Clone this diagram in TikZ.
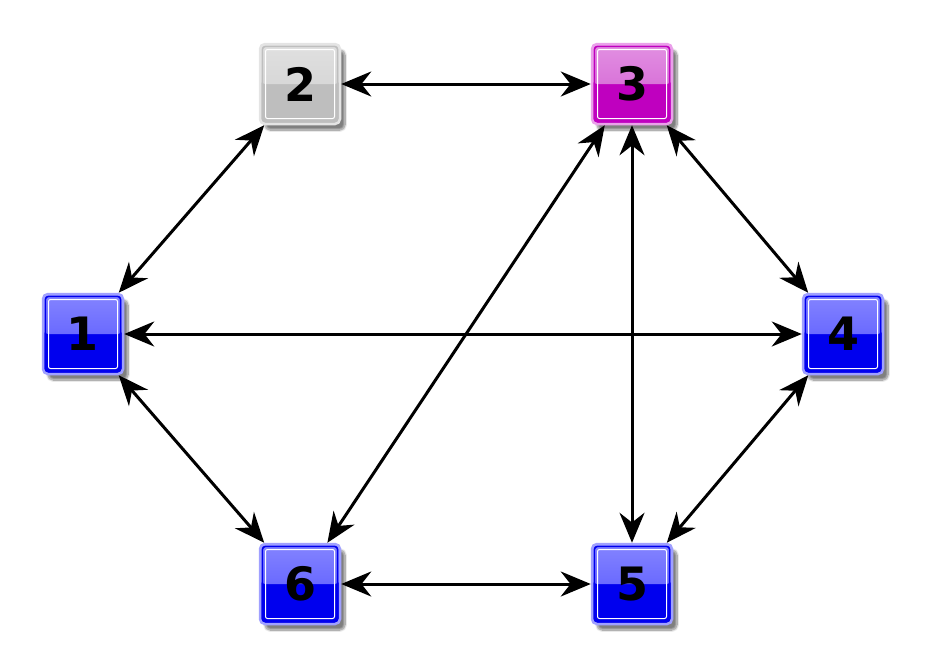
\documentclass[tikz,border=0pt]{standalone}
\usepackage{fontspec}
\setmainfont{DejaVu Sans}
\usetikzlibrary{arrows.meta,shadows.blur}
\definecolor{cblue}{HTML}{0000EE}
\definecolor{cbluelt}{HTML}{A0A0FF}
\definecolor{cbluetop}{HTML}{8484FF}
\definecolor{cbluemid}{HTML}{5050FF}
\definecolor{cgray}{HTML}{BEBEBE}
\definecolor{cgraylt}{HTML}{E4E4E4}
\definecolor{cgraytop}{HTML}{E0E0E0}
\definecolor{cgraymid}{HTML}{CFCFCF}
\definecolor{cmag}{HTML}{BF00BF}
\definecolor{cmaglt}{HTML}{EAA0EA}
\definecolor{cmagtop}{HTML}{E290E2}
\definecolor{cmagmid}{HTML}{D058D0}
\tikzset{
  cell/.style n args={4}{minimum size=80pt, inner sep=0pt, rounded corners=5pt,
    fill=#1, draw=#2, line width=2.5pt,
    font=\fontsize{46}{46}\selectfont\bfseries, text=black,
    blur shadow={shadow xshift=5pt, shadow yshift=-6pt, shadow blur steps=10, shadow blur extra rounding=3pt, shadow opacity=50},
    path picture={
      \fill[top color=#3, bottom color=#4]
        (path picture bounding box.north west) rectangle (path picture bounding box.east);
      \draw[#1, line width=1.6pt, rounded corners=3pt]
        ([shift={(2.4pt,-2.4pt)}]path picture bounding box.north west) rectangle
        ([shift={(-2.4pt,2.4pt)}]path picture bounding box.south east);
      \draw[white, line width=1pt, rounded corners=2pt]
        ([shift={(5.5pt,-5.5pt)}]path picture bounding box.north west) rectangle
        ([shift={(-5.5pt,5.5pt)}]path picture bounding box.south east);
    }},
  tipshape/.style={Stealth[length=30pt,width=25pt]},
  link/.style={line width=3pt, {Stealth[length=30pt,width=25pt]}-{Stealth[length=30pt,width=25pt]}}
}
\begin{document}
\begin{tikzpicture}[x=1pt,y=-1pt]
\useasboundingbox (0,0) rectangle (928,667);
\node[cell={cblue}{cbluelt}{cbluetop}{cbluemid}] (n1) at (83,334) {1};
\node[cell={cgray}{cgraylt}{cgraytop}{cgraymid}] (n2) at (300,84) {2};
\node[cell={cmag}{cmaglt}{cmagtop}{cmagmid}] (n3) at (632,84) {3};
\node[cell={cblue}{cbluelt}{cbluetop}{cbluemid}] (n4) at (843,334) {4};
\node[cell={cblue}{cbluelt}{cbluetop}{cbluemid}] (n5) at (632,584) {5};
\node[cell={cblue}{cbluelt}{cbluetop}{cbluemid}] (n6) at (300,584) {6};
\draw[link] (n1) -- (n2);
\draw[link] (n2) -- (n3);
\draw[link] (n3) -- (n4);
\draw[link] (n1) -- (n4);
\draw[link] (n3) -- (n6);
\draw[link] (n3) -- (n5);
\draw[link] (n4) -- (n5);
\draw[link] (n1) -- (n6);
\draw[link] (n6) -- (n5);
\end{tikzpicture}
\end{document}
